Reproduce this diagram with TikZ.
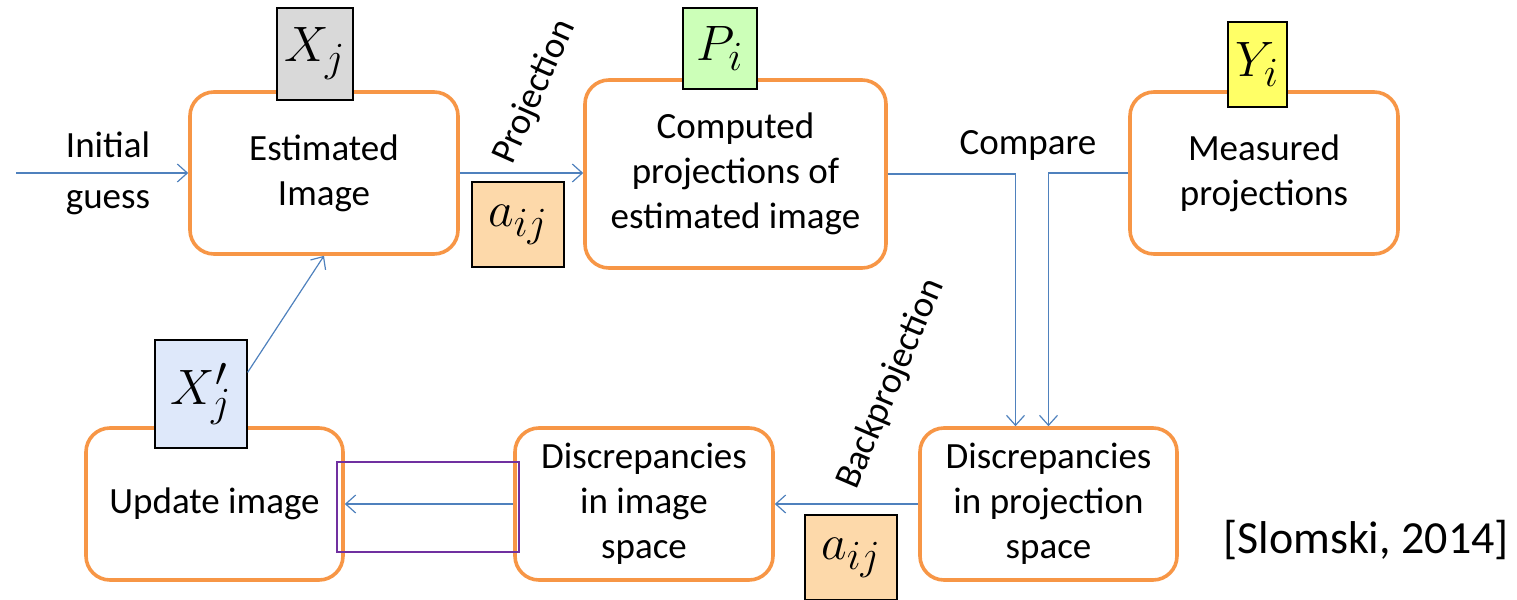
\documentclass[tikz,border=0pt]{standalone}
\usepackage{fontspec}
\setmainfont{Carlito}
\usetikzlibrary{arrows.meta}
\definecolor{boxorange}{HTML}{F79646}
\definecolor{flowblue}{HTML}{4F81BD}
\definecolor{symgray}{HTML}{D9D9D9}
\definecolor{symgreen}{HTML}{CCFFB8}
\definecolor{symyellow}{HTML}{FFFF66}
\definecolor{symblue}{HTML}{DEE8FA}
\definecolor{symorange}{HTML}{FDD9AA}
\definecolor{markpurple}{HTML}{7030A0}
\tikzset{
  blk/.style={draw=boxorange, line width=1.8pt, rounded corners=12pt, fill=white,
    align=center, inner sep=2pt, font=\fontsize{18.5}{22.5}\selectfont},
  sym/.style={draw=black, line width=0.6pt, inner sep=0pt,
    font=\fontsize{31}{36}\selectfont},
  flow/.style={draw=flowblue, line width=0.6pt, -{Straight Barb[length=5pt,width=9pt]}},
  txt/.style={inner sep=1pt, font=\fontsize{18.5}{22.5}\selectfont}
}
\begin{document}
\begin{tikzpicture}[x=0.5pt,y=-0.5pt]
    \useasboundingbox (0,0) rectangle (1517,600);
    % boxes of the loop
    \node[blk, minimum width=134pt, minimum height=81pt] (est) at (324,173) {Estimated\\Image};
    \node[blk, minimum width=150.5pt, minimum height=94pt] (comp) at (735.5,174) {Computed\\projections of\\estimated image};
    \node[blk, minimum width=134pt, minimum height=81pt] (meas) at (1264,173) {Measured\\projections};
    \node[blk, minimum width=128.5pt, minimum height=76pt] (dproj) at (1048.5,504) {Discrepancies\\in projection\\space};
    \node[blk, minimum width=129pt, minimum height=76pt] (dimg) at (644,504) {Discrepancies\\in image\\space};
    \node[blk, minimum width=128.5pt, minimum height=76pt] (upd) at (214.5,504) {Update image};
    % symbols
    \node[sym, fill=symgray, minimum width=38pt, minimum height=46pt] (xj) at (315,54) {$X_j$};
    \node[sym, fill=symgreen, minimum width=37pt, minimum height=40.5pt] (pi) at (720,48.5) {$P_i$};
    \node[sym, fill=symyellow, minimum width=29.5pt, minimum height=42.5pt] (yi) at (1257.5,64.5) {$Y_i$};
    \node[sym, fill=symblue, minimum width=46pt, minimum height=54pt] (xjp) at (201,394) {$X_j'$};
    \node[sym, fill=symorange, minimum width=46pt, minimum height=42.5pt] (aij) at (518,224.5) {$a_{ij}$};
    \node[sym, fill=symorange, minimum width=46pt, minimum height=42.5pt] (aijb) at (851,557.5) {$a_{ij}$};
    % connectors
    \coordinate (start) at (16,173);
    \draw[flow] (start) -- (est.west);
    \node[txt] (init) at (108,145) {Initial};
    \node[txt] (guess) at (108,203) {guess};
    \draw[flow] (est.east) -- (est.east -| comp.west);
    \node[txt, rotate=66] (proj) at (535,92) {Projection};
    \draw[flow] (comp.east) -| ([xshift=-16.5pt]dproj.north);
    \draw[flow] (meas.west) -| (dproj.north);
    \node[txt] (cmp) at (1028,145) {Compare};
    \draw[flow] (dproj.west) -- (dimg.east);
    \node[txt, rotate=67] (bproj) at (891,384) {Backprojection};
    \draw[flow] (dimg.west) -- (upd.east);
    \draw[flow] ([yshift=-16.5pt]xjp.north east) -- (est.south);
    \node[draw=markpurple, line width=1pt, minimum width=91pt, minimum height=45pt] (mark) at (428,507) {};
    \node[inner sep=0pt, font=\fontsize{23}{28}\selectfont] (ref) at (1366,540) {[Slomski, 2014]};
\end{tikzpicture}
\end{document}
